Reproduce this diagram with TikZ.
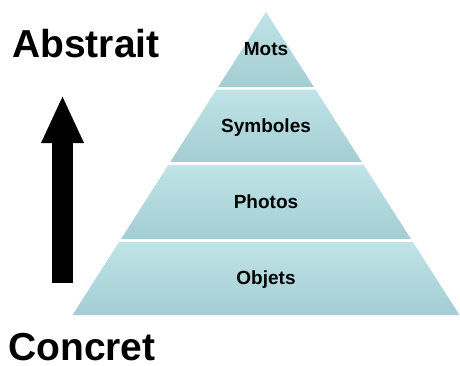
\documentclass[tikz,border=0pt]{standalone}
\usepackage{fontspec}
\setmainfont{Liberation Sans}
\usepackage{tikz}
\usetikzlibrary{arrows.meta, calc}
\definecolor{bandtop}{RGB}{192, 228, 231}
\definecolor{bandbottom}{RGB}{163, 205, 211}

\begin{document}
\begin{tikzpicture}[x=1pt, y=1pt,
    bigword/.style={inner sep=0pt, anchor=base west, font=\fontsize{39}{40}\selectfont\bfseries},
    layerlabel/.style={inner sep=0pt, anchor=base, font=\fontsize{19}{20}\selectfont\bfseries},
    band/.style={top color=bandtop, bottom color=bandbottom, draw=none}]
  \useasboundingbox[fill=white] (0,0) rectangle (460,365);

  % pyramid corners
  \coordinate (apex) at (266, 353);
  \coordinate (baseleft) at (72.5, 50);
  \coordinate (baseright) at (459.5, 50);

  % bands, from the top down
  \foreach \t/\b in {0/0.2475, 0.2558/0.495, 0.505/0.749, 0.759/1} {
    \shade[band] ($(apex)!\t!(baseleft)$) -- ($(apex)!\b!(baseleft)$)
      -- ($(apex)!\b!(baseright)$) -- ($(apex)!\t!(baseright)$) -- cycle;
  }

  % labels
  \node[layerlabel] (mots) at (266, 309) {Mots};
  \node[layerlabel] (symboles) at (266, 233) {Symboles};
  \node[layerlabel] (photos) at (266, 157) {Photos};
  \node[layerlabel] (objets) at (266, 81) {Objets};

  % left side
  \node[bigword] (abstrait) at (12, 307) {Abstrait};
  \node[bigword] (concret) at (8, 5) {Concret};

  \coordinate (arrowfoot) at (62.5, 82);
  \coordinate (arrowtip) at (62.5, 270);
  \draw[line width=21pt, -{Triangle[width=39pt, length=48pt]}] (arrowfoot) -- (arrowtip);
\end{tikzpicture}
\end{document}
